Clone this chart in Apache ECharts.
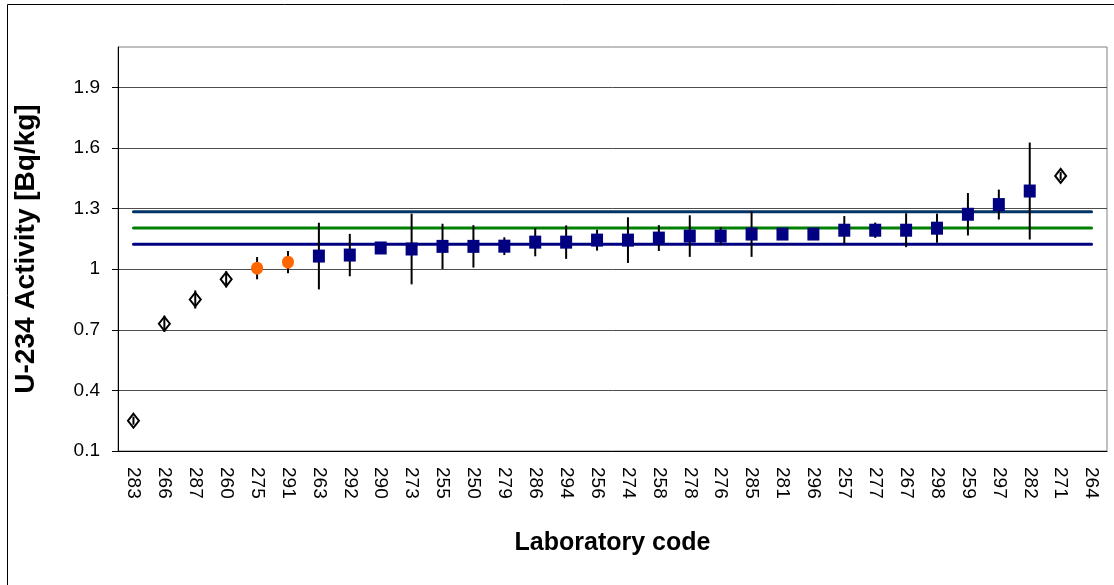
<!DOCTYPE html>
<html>
<head>
<meta charset="utf-8">
<script src="https://cdn.jsdelivr.net/npm/echarts@6/dist/echarts.min.js"></script>
<style>
  html, body { margin: 0; padding: 0; background: #fff; }
  #chart { width: 1114px; height: 585px; }
</style>
</head>
<body>
<div id="chart"></div>
<script>
// laboratory codes, in plotted order
const labs = ['283','266','287','260','275','291','263','292','290','273','255','250','279','286','294','256',
              '274','258','278','276','285','281','296','257','277','267','298','259','297','282','271','264'];
// reported U-234 activity [Bq/kg]
const activity = [0.25, 0.73, 0.85, 0.95, 1.005, 1.035, 1.065, 1.07, 1.105, 1.10, 1.113, 1.113, 1.114, 1.134, 1.134, 1.144,
                  1.144, 1.154, 1.164, 1.164, 1.174, 1.174, 1.174, 1.193, 1.193, 1.193, 1.203, 1.272, 1.32, 1.387, 1.462, null];
// reported uncertainty (half length of error bar)
const uncert = [0.02, 0.04, 0.045, 0.04, 0.055, 0.055, 0.165, 0.105, 0.025, 0.175, 0.112, 0.105, 0.044, 0.07, 0.083, 0.052,
                0.113, 0.064, 0.103, 0.044, 0.113, 0.02, 0.02, 0.07, 0.038, 0.084, 0.072, 0.105, 0.074, 0.24, 0.02, null];
// D = hollow diamond, O = orange dot, S = square
const markType = ['D','D','D','D','O','O','S','S','S','S','S','S','S','S','S','S',
                  'S','S','S','S','S','S','S','S','S','S','S','S','S','S','D',''];
// reference value and its limits
const refHigh = 1.284;
const refValue = 1.204;
const refLow = 1.124;
const yTicks = [0.1, 0.4, 0.7, 1, 1.3, 1.6, 1.9];

const FONT = 'Liberation Sans';

function pick(type) {
  const out = [];
  activity.forEach((v, i) => {
    if (markType[i] === type && v != null) out.push([i, v]);
  });
  return out;
}

const errData = [];
activity.forEach((v, i) => {
  if (v != null) errData.push([i, v, uncert[i]]);
});

function refLine(val, color) {
  return {
    type: 'line',
    data: labs.map(() => val),
    symbol: 'none',
    silent: true,
    z: 2,
    lineStyle: { color: color, width: 3, cap: 'round' }
  };
}

const chart = echarts.init(document.getElementById('chart'));
chart.setOption({
  animation: false,
  backgroundColor: '#fff',
  textStyle: { fontFamily: FONT },
  graphic: [{
    type: 'rect',
    shape: { x: 7.5, y: 4.5, width: 1200, height: 700 },
    style: { fill: 'none', stroke: '#000', lineWidth: 1 },
    silent: true
  }],
  grid: {
    left: 118, right: 7, top: 47, bottom: 134,
    show: true, borderColor: '#808080', borderWidth: 1
  },
  xAxis: {
    type: 'category',
    data: labs,
    name: 'Laboratory code',
    nameLocation: 'middle',
    nameGap: 80,
    nameTextStyle: { fontFamily: FONT, fontWeight: 'bold', fontSize: 25, color: '#000' },
    axisLine: { lineStyle: { color: '#000', width: 1 } },
    axisTick: { length: 6, lineStyle: { color: '#000' } },
    axisLabel: { rotate: -90, margin: 16, fontSize: 19, color: '#000', fontFamily: FONT, interval: 0 },
    splitLine: { show: false }
  },
  yAxis: {
    type: 'value',
    min: 0.1,
    max: 2.1,
    interval: 0.3,
    name: 'U-234 Activity [Bq/kg]',
    nameLocation: 'middle',
    nameGap: 78,
    nameTextStyle: { fontFamily: FONT, fontWeight: 'bold', fontSize: 28, color: '#000' },
    axisLine: { show: true, lineStyle: { color: '#000', width: 1 } },
    axisTick: { show: true, length: 6, lineStyle: { color: '#000' }, customValues: yTicks },
    axisLabel: { margin: 18, fontSize: 19, color: '#000', fontFamily: FONT, customValues: yTicks },
    splitLine: { show: true, lineStyle: { color: '#4d4d4d', width: 1 } }
  },
  series: [
    refLine(refHigh, '#003366'),
    refLine(refValue, '#008000'),
    refLine(refLow, '#000080'),
    {
      type: 'custom',
      data: errData,
      z: 3,
      silent: true,
      encode: { x: 0, y: 1 },
      renderItem: function (params, api) {
        const i = api.value(0), v = api.value(1), e = api.value(2);
        const lo = api.coord([i, v - e]);
        const hi = api.coord([i, v + e]);
        return {
          type: 'line',
          shape: { x1: lo[0], y1: lo[1], x2: hi[0], y2: hi[1] },
          style: { stroke: '#000', lineWidth: 2 }
        };
      }
    },
    {
      type: 'scatter',
      data: pick('S'),
      symbol: 'rect',
      symbolSize: [12, 13],
      z: 4,
      itemStyle: { color: '#000080', opacity: 1 }
    },
    {
      type: 'scatter',
      data: pick('O'),
      symbol: 'circle',
      symbolSize: [12, 13],
      z: 4,
      itemStyle: { color: '#ff6600', opacity: 1 }
    },
    {
      type: 'scatter',
      data: pick('D'),
      symbol: 'diamond',
      symbolSize: [11, 14],
      z: 4,
      itemStyle: { color: 'rgba(255,255,255,0)', borderColor: '#000', borderWidth: 2, opacity: 1 }
    }
  ]
});
</script>
</body>
</html>
